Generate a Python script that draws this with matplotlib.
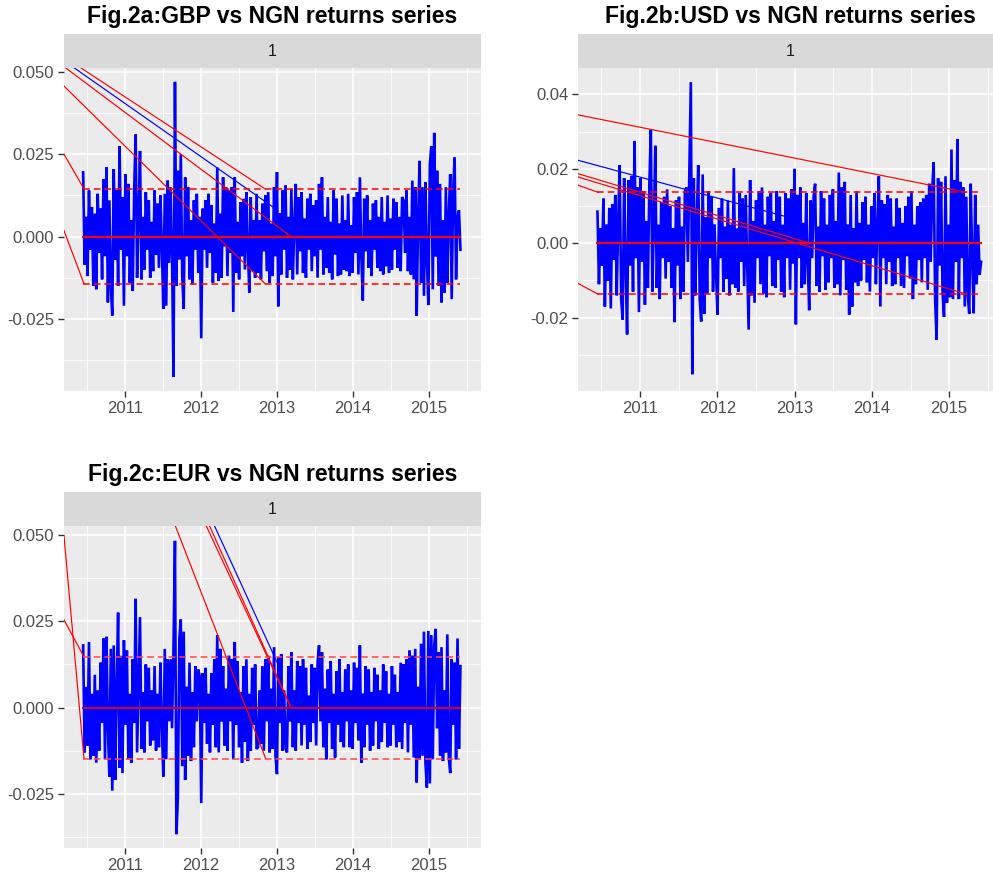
import numpy as np
import pandas as pd
import matplotlib
matplotlib.use("Agg")
import matplotlib.pyplot as plt

plt.rcParams['font.family'] = ['Liberation Sans', 'DejaVu Sans']

# ---------------- data ----------------
dates = pd.date_range('2010-06-14', periods=260, freq='7D')
t = np.asarray(dates.year + (dates.dayofyear - 1) / 365.25, dtype=float)

# returns, in units of 1e-4
gbp_raw = [
    195, -85, 60, -120, 140, -40, 90, -150, 70, -160, 130, -50, 85, -130, 175, -60, 210, -200, 110, -150,
    -240, 205, -70, 140, -150, 275, -40, 120, -210, 190, -60, 160, -140, 50, -165, 145, 310, -125, 60, 260,
    -130, 60, -100, 135, -40, 110, -125, 45, -105, 140, -55, 100, -95, 125, -30, -220, 130, -210, 170, -80,
    150, -60, -426, 470, -150, 200, -70, 250, -120, -220, 180, -60, 150, -130, 50, -145, 110, -40, 130, -110,
    60, -309, 85, -40, 110, -95, 130, -50, 95, -140, 40, -110, 210, -135, 70, -125, 180, -30, 150, -120,
    140, -50, 150, -229, 180, -110, 45, -130, 105, -60, 115, -100, 135, -35, -170, 120, -105, 50, -125, 130,
    -110, 50, -130, 100, -45, 125, -105, 135, -140, 40, -120, 150, -60, 196, -212, 70, -115, 140, -40, 155,
    -125, 60, -100, 145, -130, 35, 160, -115, 120, -45, 135, -110, 55, -125, 115, -40, 130, -105, 95, -60,
    110, -125, 160, -40, 180, -115, 60, -95, 120, -110, 45, -130, 140, -55, 115, -120, 40, -115, 125, -100,
    50, -105, 130, -120, 35, -110, 120, -50, 135, -115, 180, -60, -194, 115, -45, 125, -95, 50, -120, 100,
    -40, 110, -95, 60, -105, 120, -115, 45, -90, 125, -110, 55, -100, 115, -40, 105, -95, 60, -105, 120,
    110, -50, 140, -105, 60, -115, 170, -130, 150, -241, 60, 230, -140, 150, -180, 165, -70, -208, 220, 275,
    -160, 315, -60, 200, -150, 160, -200, 50, -170, 150, -140, 70, 190, -190, 140, 240, -130, 60, 80, -40,
]
usd_raw = [
    85, -110, 40, -60, 120, -170, 50, -100, 95, -175, 105, -45, 130, -140, 60, 210, -150, -205, 175, -60,
    -245, 170, -60, 180, -130, 275, -40, 150, -185, 175, -50, 140, -165, 60, -120, 160, 305, -130, 45, 262,
    -120, 50, -150, 110, -40, 125, -95, 145, -50, 100, -120, 40, -212, 115, -60, 125, -150, 45, -130, 140,
    150, -50, 190, 433, -352, 175, -140, 60, 210, -150, -210, 185, -190, 70, -135, 140, -40, 125, -130, 50,
    -80, -192, 95, -40, 120, -130, 45, -95, 115, -140, 50, -110, 202, -120, 40, -130, 135, -50, 120, -115,
    130, -45, -232, 170, -140, 60, -160, 115, -40, 140, -110, 150, -135, 50, -145, 125, -35, 135, -115, 60,
    -120, 140, -45, 125, -130, 50, -145, 135, -40, 120, -125, 145, -55, 200, -218, 130, -40, 150, -120, 55,
    -110, 135, -50, -180, 115, -40, 125, 160, -115, 45, -130, 140, -35, 120, -125, 50, -105, 130, -40, 145,
    -120, 60, -110, 190, -140, 150, -45, 165, -125, 50, -192, 130, -170, 40, -105, 140, -115, 55, -100, 110,
    -45, 125, -105, 50, -130, 100, -40, 135, -110, 55, 180, -170, 115, -40, 105, -110, 130, -50, 120, -115,
    45, -110, 120, -40, 95, -115, 55, -120, 100, -35, 125, -95, 140, -150, 50, -110, 100, -45, 110, -105,
    120, -40, 130, -125, 160, -50, 140, 218, -150, -260, 175, -60, 165, -130, -198, 180, -160, 50, -145, 252,
    -150, 170, -50, 280, -150, 165, -40, 150, -170, 125, -140, -190, 160, -45, -188, 130, -110, 50, -85, -50,
]
eur_raw = [
    180, -130, 60, -110, 190, -150, 40, -140, 95, -160, 50, -125, 130, -45, 200, -150, 205, -60, -200, 170,
    -241, 180, -210, 60, 275, -175, 150, -190, 195, -50, 165, -150, 40, -160, 140, -45, 315, -130, 60, 262,
    -120, 45, -130, 125, -40, 115, -110, 50, -95, 120, -125, 40, -115, 130, -50, -200, 170, -150, 140, -40,
    140, -60, 175, 483, -367, -260, 200, 255, -170, 220, -210, 60, -140, 130, -155, 45, -115, 120, -40, 110,
    90, -277, 100, -45, 115, -105, 40, -130, 100, -50, 140, -115, 210, -130, 170, -40, 120, -110, 55, -125,
    150, -40, 140, -150, 190, -50, 135, -115, 45, -160, 120, -100, 140, -155, 40, -125, 115, -50, 125, -120,
    -115, 50, -105, 120, -125, 140, -40, 150, -130, 55, -120, 175, -140, -193, 145, -45, 155, -125, 50, -120,
    -130, 120, -40, 160, -115, 50, -125, 135, -45, 120, -110, 140, -50, 115, -120, 35, -100, 125, -45, 115,
    -110, 130, 180, -40, 160, -115, 55, -150, 110, -45, 135, -120, 40, -145, 105, -50, 140, -100, 45, -115,
    110, -40, 125, -115, 50, -120, 130, -45, 115, -95, 180, -160, 40, -115, 120, -50, 110, -125, 45, -110,
    115, -40, 95, -120, 50, -100, 125, -45, 105, -115, 40, -110, 120, -50, 95, -115, 45, -100, 130, -120,
    125, -45, 140, -130, 165, -50, 150, -145, 170, -217, 60, -150, 185, -140, 220, -160, -232, 222, -220, 210,
    -150, 180, 228, -60, 160, -140, 175, -155, 50, -130, 212, -145, -190, 140, -50, 130, -150, 200, -120, 120,
]
gbp = np.array(gbp_raw) * 1e-4
usd = np.array(usd_raw) * 1e-4
eur = np.array(eur_raw) * 1e-4

titles = ["Fig.2a:GBP vs NGN returns series",
          "Fig.2b:USD vs NGN returns series",
          "Fig.2c:EUR vs NGN returns series"]
strip_label = "1"
upper_band = [0.0145, 0.0137, 0.0147]
lower_band = [-0.0143, -0.0137, -0.0148]

# slanted segments (x0, y0, x1, y1) in decimal years / returns
seg_a_red = [(2010.197, 0.0250, 2010.46, 0.0145),
             (2010.197, 0.0018, 2010.46, -0.0143),
             (2010.197, 0.0457, 2012.842, -0.0143),
             (2010.197, 0.0516, 2013.184, 0.0),
             (2010.197, 0.0546, 2012.842, 0.0145)]
seg_a_blue = [(2010.197, 0.0534, 2013.013, 0.0079)]
seg_b_red = [(2010.198, 0.0345, 2015.217, 0.0137),
             (2010.198, 0.0187, 2013.20, 0.0),
             (2010.198, 0.0178, 2015.226, -0.0137),
             (2010.198, 0.0156, 2010.457, 0.0137),
             (2010.198, -0.0108, 2010.457, -0.0137)]
seg_b_blue = [(2010.198, 0.0223, 2013.005, 0.0065)]
seg_c_red = [(2010.197, 0.0497, 2010.46, -0.0148),
             (2010.197, 0.0254, 2010.46, 0.0147),
             (2011.534, 0.0599, 2012.851, -0.0148),
             (2011.915, 0.0599, 2013.184, 0.0),
             (2011.964, 0.0599, 2013.184, 0.0)]
seg_c_blue = [(2012.026, 0.0599, 2013.053, 0.0106)]

year_ticks = [2011, 2012, 2013, 2014, 2015]
yticks_a = [-0.025, 0.000, 0.025, 0.050]
yticks_b = [-0.02, 0.00, 0.02, 0.04]
yticks_c = [-0.025, 0.000, 0.025, 0.050]

# ---------------- figure ----------------
W, H = 993, 876
fig = plt.figure(figsize=(W / 100, H / 100), dpi=100)


def px_axes(x0, y0, x1, y1):
    return fig.add_axes([x0 / W, 1 - y1 / H, (x1 - x0) / W, (y1 - y0) / H])


def make_panel(box, strip_h, series, yticks, fmt, ylim, band_hi, band_lo,
               segs_red, segs_blue, title, title_base, zero_col, dash_col):
    x0, y0, x1, y1 = box
    ax = px_axes(x0, y0, x1, y1)
    ax.set_facecolor('#EBEBEB')
    for s in ax.spines.values():
        s.set_visible(False)
    ax.set_xticks(year_ticks)
    ax.set_xticklabels([str(y) for y in year_ticks])
    ax.set_xticks([y - 0.5 for y in year_ticks] + [year_ticks[-1] + 0.5], minor=True)
    ax.set_yticks(yticks)
    ax.set_yticklabels([fmt.format(v) for v in yticks])
    step = yticks[1] - yticks[0]
    ax.set_yticks([v + step / 2 for v in [yticks[0] - step] + yticks], minor=True)
    ax.grid(which='major', color='white', lw=1.1)
    ax.grid(which='minor', color='white', lw=0.6)
    ax.set_axisbelow(True)
    ax.tick_params(which='major', length=4, width=1.0, color='#333333',
                   labelcolor='#4D4D4D', labelsize=12, pad=3)
    ax.tick_params(which='minor', length=0)

    ax.plot(t, series, color='blue', lw=1.9, zorder=2, solid_joinstyle='miter')
    ax.plot([t[0], t[-1]], [0, 0], color=zero_col, lw=1.5, zorder=4)
    ax.plot([t[0], t[-1]], [band_hi, band_hi], color=dash_col, lw=1.1,
            ls=(0, (4.4, 2.6)), zorder=4)
    ax.plot([t[0], t[-1]], [band_lo, band_lo], color=dash_col, lw=1.1,
            ls=(0, (4.4, 2.6)), zorder=4)
    for (a, b, c, d) in segs_red:
        ax.plot([a, c], [b, d], color='red', lw=0.85, zorder=3)
    for (a, b, c, d) in segs_blue:
        ax.plot([a, c], [b, d], color='blue', lw=0.85, zorder=3)

    # limits last: set_ticks may expand them
    ax.set_xlim(2010.197, 2015.684)
    ax.set_ylim(*ylim)

    st = px_axes(x0, y0 - strip_h, x1, y0)
    st.set_facecolor('#D9D9D9')
    st.set_xticks([])
    st.set_yticks([])
    for s in st.spines.values():
        s.set_visible(False)
    st.text(0.5, 0.5, strip_label, ha='center', va='center', fontsize=11.5,
            color='#1A1A1A', transform=st.transAxes)

    fig.text(((x0 + x1) / 2) / W, 1 - title_base / H, title, ha='center',
             va='baseline', fontsize=16.6, fontweight='bold', color='black')
    return ax


make_panel((64, 68, 481, 391), 34, gbp, yticks_a, '{:.3f}', (-0.0469, 0.0512),
           upper_band[0], lower_band[0], seg_a_red, seg_a_blue, titles[0], 22.7,
           'red', 'red')
make_panel((578, 68, 1002, 391), 34, usd, yticks_b, '{:.2f}', (-0.0397, 0.0471),
           upper_band[1], lower_band[1], seg_b_red, seg_b_blue, titles[1], 22.7,
           'red', 'red')
make_panel((64, 526, 481, 848), 34, eur, yticks_c, '{:.3f}', (-0.0407, 0.0526),
           upper_band[2], lower_band[2], seg_c_red, seg_c_blue, titles[2], 480.7,
           '#CC0033', '#FF4444')

fig.savefig('out.png', dpi=100)
